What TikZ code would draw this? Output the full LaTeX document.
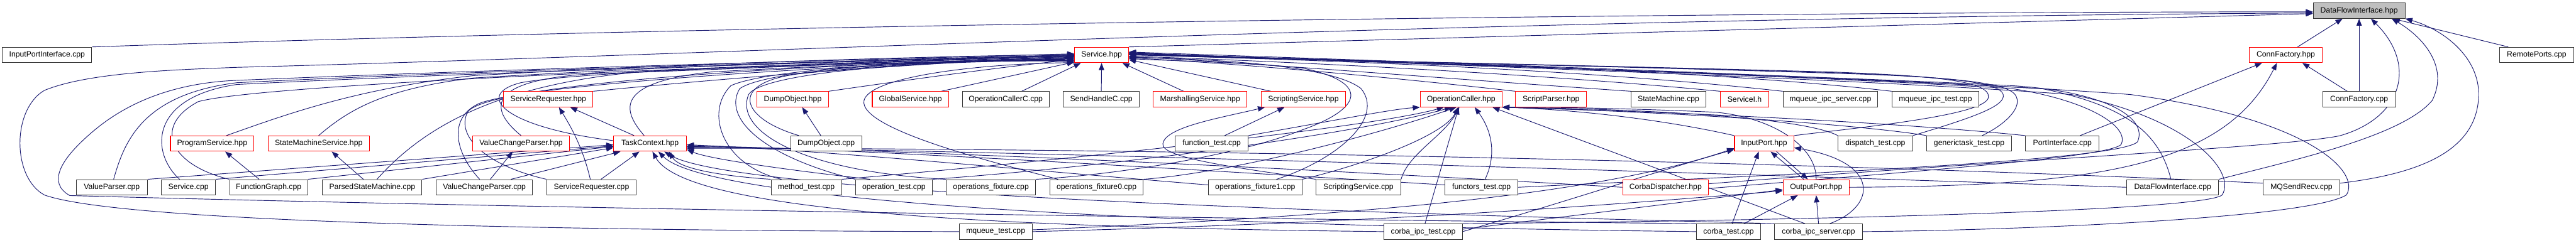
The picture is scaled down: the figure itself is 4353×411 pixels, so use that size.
\documentclass[tikz,border=0pt]{standalone}
\usepackage{fontspec}
\setmainfont{Liberation Sans}
\usetikzlibrary{arrows.meta}
\definecolor{edgecol}{HTML}{191970}
\definecolor{rootfill}{HTML}{BFBFBF}
\pgfdeclarelayer{bg}
\pgfsetlayers{bg,main}
\tikzset{
  nb/.style={draw=black!80, line width=1.1pt, fill=white, inner sep=0pt, minimum height=26pt, font=\fontsize{13}{15}\selectfont},
  nr/.style={nb, draw=red},
  nroot/.style={nb, fill=rootfill},
  dep/.style={draw=edgecol, line width=1pt, -{Triangle[length=12pt,width=9pt]}}
}
\begin{document}
\begin{tikzpicture}[x=1pt,y=-1pt]
\useasboundingbox (0,0) rectangle (4353,411);
% row 0
\node[nroot, minimum width=155pt] (D) at (3986.5,18) {DataFlowInterface.hpp};
% row 1
\node[nb, minimum width=151pt] (iPI) at (79.5,93) {InputPortInterface.cpp};
\node[nr, minimum width=91pt] (svc) at (1861.5,93) {Service.hpp};
\node[nr, minimum width=123pt] (cfh) at (3862.5,93) {ConnFactory.hpp};
\node[nb, minimum width=125pt] (rp) at (4286.5,93) {RemotePorts.cpp};
% row 2
\node[nr, minimum width=151pt] (srh) at (926.5,168) {ServiceRequester.hpp};
\node[nr, minimum width=121pt] (doh) at (1339.5,168) {DumpObject.hpp};
\node[nr, minimum width=129pt] (gsh) at (1538.5,168) {GlobalService.hpp};
\node[nb, minimum width=147pt] (occ) at (1699.5,168) {OperationCallerC.cpp};
\node[nb, minimum width=128pt] (shc) at (1861,168) {SendHandleC.cpp};
\node[nr, minimum width=158pt] (msh) at (2028,168) {MarshallingService.hpp};
\node[nr, minimum width=143pt] (ssh) at (2202.5,168) {ScriptingService.hpp};
\node[nr, minimum width=138pt] (och) at (2469,168) {OperationCaller.hpp};
\node[nr, minimum width=120pt] (sph) at (2621,168) {ScriptParser.hpp};
\node[nb, minimum width=127pt] (smc) at (2819.5,168) {StateMachine.cpp};
\node[nr, minimum width=82pt] (sih) at (2948,168) {ServiceI.h};
\node[nb, minimum width=160pt] (mis) at (3093,168) {mqueue\_ipc\_server.cpp};
\node[nb, minimum width=147pt] (mit) at (3270.5,168) {mqueue\_ipc\_test.cpp};
\node[nb, minimum width=123pt] (cfc) at (3986.5,168) {ConnFactory.cpp};
% row 3
\node[nr, minimum width=141pt] (psh) at (358.5,243) {ProgramService.hpp};
\node[nr, minimum width=171pt] (smsh) at (538.5,243) {StateMachineService.hpp};
\node[nr, minimum width=163pt] (vcph) at (880.5,243) {ValueChangeParser.hpp};
\node[nr, minimum width=123pt] (tch) at (1098.5,243) {TaskContext.hpp};
\node[nb, minimum width=120pt] (doc) at (1396,243) {DumpObject.cpp};
\node[nb, minimum width=123pt] (ftc) at (2047.5,243) {function\_test.cpp};
\node[nr, minimum width=100pt] (iph) at (2981,243) {InputPort.hpp};
\node[nb, minimum width=126pt] (dtc) at (3169,243) {dispatch\_test.cpp};
\node[nb, minimum width=143pt] (gtc) at (3327.5,243) {generictask\_test.cpp};
\node[nb, minimum width=124pt] (pic) at (3485,243) {PortInterface.cpp};
% row 4
\node[nb, minimum width=120pt] (vpc) at (189,317) {ValueParser.cpp};
\node[nb, minimum width=91pt] (sc) at (318.5,317) {Service.cpp};
\node[nb, minimum width=132pt] (fgc) at (454,317) {FunctionGraph.cpp};
\node[nb, minimum width=168pt] (psmc) at (629,317) {ParsedStateMachine.cpp};
\node[nb, minimum width=163pt] (vcpc) at (818.5,317) {ValueChangeParser.cpp};
\node[nb, minimum width=151pt] (src) at (999.5,317) {ServiceRequester.cpp};
\node[nb, minimum width=119pt] (mtc) at (1362.5,317) {method\_test.cpp};
\node[nb, minimum width=129pt] (otc) at (1510.5,317) {operation\_test.cpp};
\node[nb, minimum width=151pt] (ofc) at (1674.5,317) {operations\_fixture.cpp};
\node[nb, minimum width=158pt] (of0) at (1853,317) {operations\_fixture0.cpp};
\node[nb, minimum width=158pt] (of1) at (2121,317) {operations\_fixture1.cpp};
\node[nb, minimum width=143pt] (ssc) at (2295.5,317) {ScriptingService.cpp};
\node[nb, minimum width=123pt] (fnc) at (2503.5,317) {functors\_test.cpp};
\node[nr, minimum width=145pt] (cdh) at (2814.5,317) {CorbaDispatcher.hpp};
\node[nr, minimum width=112pt] (oph) at (3069,317) {OutputPort.hpp};
\node[nb, minimum width=155pt] (dfc) at (3671.5,317) {DataFlowInterface.cpp};
\node[nb, minimum width=130pt] (mqsr) at (3889,317) {MQSendRecv.cpp};
% row 5
\node[nb, minimum width=123pt] (mqt) at (1682.5,392) {mqueue\_test.cpp};
\node[nb, minimum width=132pt] (cit) at (2405,392) {corba\_ipc\_test.cpp};
\node[nb, minimum width=108pt] (ctc) at (2921,392) {corba\_test.cpp};
\node[nb, minimum width=148pt] (cis) at (3073,392) {corba\_ipc\_server.cpp};

\begin{pgfonlayer}{bg}
% ---- to DataFlowInterface.hpp
\draw[dep] (iPI.north east) .. controls (1300,40) and (3000,20) .. ([yshift=-2pt]D.west);
\draw[dep] (mqt.west) .. controls (900,390) and (200,375) .. (75,330) .. controls (20,300) and (20,185) .. (75,153) .. controls (150,122) and (300,118) .. (400,114) .. controls (1300,90) and (2500,30) .. ([yshift=-4pt]D.west);
\draw[dep] (svc.north east) -- ([yshift=-5pt]D.west);
\draw[dep] ([xshift=20pt]cfh.north) -- ([xshift=-28pt]D.south);
\draw[dep] (cfc.north) -- (D.south);
\draw[dep] ([xshift=-48pt]rp.north) -- ([xshift=57pt]D.south);
\draw[dep] ([yshift=6pt]cdh.east) .. controls (3400,270) and (3850,250) .. (3953,230) .. controls (4060,200) and (4085,110) .. ([xshift=20pt]D.south);
\draw[dep] (dfc.north east) .. controls (3880,270) and (4060,230) .. (4110,170) .. controls (4140,110) and (4090,60) .. ([xshift=55pt]D.south);
\draw[dep] ([yshift=7pt]mqsr.east) .. controls (4080,295) and (4180,260) .. (4188,170) .. controls (4195,100) and (4130,50) .. (D.south east);
% ---- to ConnFactory.hpp
\draw[dep] ([xshift=30pt]pic.north) -- ([xshift=-40pt]cfh.south);
\draw[dep] (oph.east) .. controls (3550,315) and (3760,280) .. ([xshift=-15pt]cfh.south);
\draw[dep] ([xshift=-20pt]cfc.north) -- ([xshift=28pt]cfh.south);
% ---- InputPort / OutputPort
\draw[dep] ([xshift=6pt]ctc.north) -- ([xshift=-9pt]iph.south);
\draw[dep] ([xshift=26pt]ctc.north) -- ([xshift=-31pt]oph.south);
\draw[dep] (cis.north) -- (oph.south);
\draw[dep] ([xshift=-21pt]oph.north) -- ([xshift=11pt]iph.south);
\draw[dep] ([xshift=21pt]iph.south) -- ([xshift=-14pt]oph.north);
\draw[dep] ([xshift=19pt]cis.north) .. controls (3170,350) and (3180,275) .. ([yshift=-7pt]iph.east);
\draw[dep] (cit.east) .. controls (2650,340) and (2800,290) .. ([yshift=-10pt]iph.west);
\draw[dep] ([yshift=3pt]mqt.east) .. controls (2300,365) and (2700,330) .. ([yshift=-8pt]iph.west);
\draw[dep] (mqt.east) .. controls (2400,375) and (2800,340) .. ([yshift=-6pt]oph.west);
\draw[dep] ([yshift=4pt]cit.east) .. controls (2700,360) and (2900,335) .. ([yshift=-4pt]oph.west);
% ---- Service.hpp, left side
\draw[dep] (srh.north east) .. controls (1200,135) and (1500,110) .. ([yshift=-2pt]svc.west);
\draw[dep] (doh.north east) .. controls (1500,140) and (1700,112) .. ([yshift=-8pt]svc.west);
\draw[dep] ([xshift=52pt]gsh.north) -- ([yshift=-12pt]svc.west);
\draw[dep] ([xshift=24pt]psh.north) .. controls (480,195) and (600,150) .. (800,128) .. controls (1200,105) and (1600,95) .. ([yshift=1pt]svc.west);
\draw[dep] (smsh.north) .. controls (590,185) and (650,150) .. (800,132) .. controls (1200,108) and (1600,98) .. (svc.west);
\draw[dep] (vcph.north) .. controls (820,180) and (830,135) .. (1000,125) .. controls (1300,115) and (1600,100) .. ([yshift=-1pt]svc.west);
\draw[dep] ([yshift=5pt]tch.west) .. controls (850,215) and (800,160) .. (880,140) .. controls (1000,118) and (1500,105) .. ([yshift=-3pt]svc.west);
\draw[dep] ([xshift=-10pt]tch.north) .. controls (1050,185) and (1040,140) .. (1200,122) .. controls (1400,110) and (1700,100) .. ([yshift=-4pt]svc.west);
\draw[dep] ([xshift=3pt]vpc.north) .. controls (210,240) and (240,160) .. (400,140) .. controls (900,115) and (1500,103) .. (svc.west);
\draw[dep] ([xshift=-15pt]sc.north) .. controls (255,260) and (250,165) .. (400,143) .. controls (900,118) and (1500,103) .. ([yshift=-1pt]svc.west);
\draw[dep] (fgc.north west) .. controls (290,280) and (255,215) .. (335,172) .. controls (450,140) and (1400,105) .. ([yshift=-2pt]svc.west);
\draw[dep] ([xshift=8pt]psmc.north) .. controls (720,210) and (850,140) .. (1100,120) .. controls (1400,108) and (1700,102) .. ([yshift=-5pt]svc.west);
\draw[dep] ([xshift=-8pt]vcpc.north) .. controls (770,260) and (755,200) .. (810,175) .. controls (900,140) and (1500,105) .. ([yshift=-6pt]svc.west);
\draw[dep] (src.north west) .. controls (820,280) and (770,230) .. (790,190) .. controls (820,140) and (1400,105) .. ([yshift=-7pt]svc.west);
\draw[dep] ([xshift=-46pt]doc.north) .. controls (1250,200) and (1230,140) .. (1350,125) .. controls (1500,108) and (1700,100) .. ([yshift=-9pt]svc.west);
\draw[dep] ([xshift=-42pt]mtc.north) .. controls (1220,280) and (1190,190) .. (1235,145) .. controls (1300,115) and (1600,100) .. ([yshift=-10pt]svc.west);
\draw[dep] (otc.north west) .. controls (1290,265) and (1220,200) .. (1250,150) .. controls (1300,115) and (1600,100) .. ([yshift=-10pt]svc.west);
\draw[dep] (ofc.north west) .. controls (1350,290) and (1240,220) .. (1265,160) .. controls (1290,120) and (1600,100) .. ([yshift=-11pt]svc.west);
\draw[dep] ([xshift=-65pt]of0.north) .. controls (1700,280) and (1450,220) .. (1460,170) .. controls (1470,130) and (1650,108) .. ([yshift=-13pt]svc.west);
\draw[dep] (ctc.north west) .. controls (2000,370) and (800,350) .. (118,331) .. controls (80,310) and (100,270) .. (160,220) .. controls (220,170) and (300,140) .. (400,136) .. controls (900,115) and (1500,100) .. ([yshift=2pt]svc.west);
% ---- Service.hpp, bottom
\draw[dep] ([xshift=27pt]occ.north) -- ([xshift=-35pt]svc.south);
\draw[dep] (shc.north) -- (svc.south);
\draw[dep] ([xshift=-28pt]msh.north) -- ([xshift=35pt]svc.south);
% ---- Service.hpp, right side
\draw[dep] ([xshift=-55pt]ssh.north) -- ([yshift=-8pt]svc.east);
\draw[dep] (sph.north west) .. controls (2300,125) and (2050,105) .. ([yshift=-5pt]svc.east);
\draw[dep] (smc.north west) .. controls (2400,130) and (2100,105) .. ([yshift=-3pt]svc.east);
\draw[dep] (sih.north west) .. controls (2600,125) and (2200,105) .. ([yshift=-2pt]svc.east);
\draw[dep] (mis.north west) .. controls (2700,120) and (2300,103) .. (svc.east);
\draw[dep] (mit.north west) .. controls (2900,120) and (2400,103) .. ([yshift=1pt]svc.east);
\draw[dep] ([xshift=36pt]of1.north) .. controls (2260,270) and (2340,200) .. (2300,150) .. controls (2250,110) and (2050,100) .. ([yshift=-4pt]svc.east);
\draw[dep] (ofc.north east) .. controls (1900,295) and (2100,260) .. (2200,220) .. controls (2300,185) and (2320,140) .. (2200,115) .. controls (2100,105) and (1950,102) .. ([yshift=-6pt]svc.east);
\draw[dep] (iph.north east) .. controls (3150,215) and (3355,195) .. (3360,165) .. controls (3365,135) and (3250,128) .. (3100,122) .. controls (2600,108) and (2100,100) .. ([yshift=2pt]svc.east);
\draw[dep] (dtc.north east) .. controls (3330,200) and (3390,180) .. (3385,160) .. controls (3380,140) and (3300,130) .. (3100,123) .. controls (2600,108) and (2100,100) .. ([yshift=1pt]svc.east);
\draw[dep] ([xshift=22pt]gtc.north) .. controls (3390,210) and (3420,180) .. (3405,160) .. controls (3390,140) and (3300,130) .. (3100,124) .. controls (2600,108) and (2100,100) .. ([yshift=2pt]svc.east);
\draw[dep] ([yshift=-2pt]cdh.east) .. controls (3300,285) and (3560,265) .. (3584,245) .. controls (3600,215) and (3530,170) .. (3400,150) .. controls (3000,125) and (2200,100) .. ([yshift=3pt]svc.east);
\draw[dep] (fnc.east) .. controls (2900,300) and (3580,275) .. (3612,240) .. controls (3630,200) and (3560,155) .. (3400,145) .. controls (3000,125) and (2200,102) .. ([yshift=3pt]svc.east);
\draw[dep] ([xshift=-3pt]dfc.north) .. controls (3650,230) and (3600,180) .. (3450,150) .. controls (3000,125) and (2200,102) .. ([yshift=4pt]svc.east);
\draw[dep] (cit.north east) .. controls (2900,375) and (3720,360) .. (3755,330) .. controls (3780,290) and (3700,200) .. (3500,160) .. controls (3100,130) and (2200,102) .. ([yshift=4pt]svc.east);
\draw[dep] (cis.east) .. controls (3400,390) and (3900,370) .. (3965,330) .. controls (3990,290) and (3900,200) .. (3600,160) .. controls (3200,130) and (2300,102) .. ([yshift=5pt]svc.east);
% ---- TaskContext.hpp
\draw[dep] (vpc.north east) -- ([yshift=-2pt]tch.west);
\draw[dep] (sc.north east) -- ([yshift=-4pt]tch.west);
\draw[dep] (fgc.north east) -- ([yshift=-5pt]tch.west);
\draw[dep] (psmc.north east) -- ([yshift=-7pt]tch.west);
\draw[dep] ([xshift=45pt]vcpc.north) -- ([xshift=-50pt]tch.south);
\draw[dep] ([xshift=16pt]src.north) -- ([xshift=-18pt]tch.south);
\draw[dep] (mtc.north west) .. controls (1250,300) and (1150,290) .. ([xshift=32pt]tch.south);
\draw[dep] (cit.west) .. controls (1700,385) and (1160,360) .. ([xshift=4pt]tch.south);
\draw[dep] (ctc.west) .. controls (2000,382) and (1200,345) .. ([xshift=14pt]tch.south);
\draw[dep] (cis.north west) .. controls (2500,365) and (1250,335) .. ([xshift=24pt]tch.south);
\draw[dep] ([xshift=-40pt]otc.north) .. controls (1350,290) and (1200,270) .. ([yshift=-10pt]tch.east);
\draw[dep] ([yshift=4pt]of1.west) .. controls (1700,285) and (1400,255) .. ([yshift=-2pt]tch.east);
\draw[dep] ([yshift=4pt]fnc.west) .. controls (1900,280) and (1400,250) .. ([yshift=-4pt]tch.east);
\draw[dep] (cdh.west) .. controls (2200,285) and (1500,252) .. ([yshift=-5pt]tch.east);
\draw[dep] (dfc.west) .. controls (2800,290) and (1700,255) .. ([yshift=-6pt]tch.east);
\draw[dep] ([yshift=7pt]mqsr.west) .. controls (3000,270) and (1800,250) .. ([yshift=-8pt]tch.east);
% ---- OperationCaller.hpp
\draw[dep] (ftc.north east) .. controls (2250,205) and (2350,185) .. (och.south west);
\draw[dep] (mtc.north east) .. controls (1700,280) and (2300,220) .. ([xshift=-29pt]och.south);
\draw[dep] (otc.north east) .. controls (1900,280) and (2300,225) .. ([xshift=-16pt]och.south);
\draw[dep] (of0.north east) .. controls (2100,290) and (2350,220) .. ([xshift=-8pt]och.south);
\draw[dep] (of1.north east) .. controls (2300,280) and (2440,230) .. ([xshift=-5pt]och.south);
\draw[dep] (ssc.north east) .. controls (2380,260) and (2440,230) .. ([xshift=-3pt]och.south);
\draw[dep] ([xshift=6pt]fnc.north) .. controls (2530,260) and (2520,220) .. ([xshift=23pt]och.south);
\draw[dep] ([xshift=3pt]cit.north) -- ([xshift=-4pt]och.south);
\draw[dep] ([xshift=-23pt]cis.north) -- ([xshift=53pt]och.south);
\draw[dep] (iph.north west) .. controls (2800,200) and (2650,185) .. (och.south east);
\draw[dep] (dtc.north west) .. controls (3050,200) and (2800,185) .. (och.south east);
\draw[dep] (gtc.north west) .. controls (3150,212) and (2850,190) .. (och.south east);
\draw[dep] (pic.north west) .. controls (3200,207) and (2850,190) .. (och.south east);
\draw[dep] (oph.north) .. controls (3070,250) and (3000,200) .. (2900,190) .. controls (2750,183) and (2600,181) .. (och.south east);
% ---- ScriptingService.hpp
\draw[dep] ([xshift=22pt]ftc.north) -- ([xshift=-32pt]ssh.south);
\draw[dep] (ssc.north west) .. controls (2100,285) and (1960,268) .. (1965,243) .. controls (1970,215) and (2060,200) .. ([xshift=-65pt]ssh.south);
% ---- other headers
\draw[dep] ([xshift=-16pt]fgc.north) -- ([xshift=22pt]psh.south);
\draw[dep] ([xshift=-15pt]psmc.north) -- ([xshift=22pt]smsh.south);
\draw[dep] ([xshift=10pt]vcpc.north) -- ([xshift=-14pt]vcph.south);
\draw[dep] ([xshift=-2pt]src.north) .. controls (985,250) and (965,215) .. ([xshift=18pt]srh.south);
\draw[dep] ([xshift=-27pt]tch.north) -- ([xshift=37pt]srh.south);
\draw[dep] ([xshift=-9pt]doc.north) -- ([xshift=16pt]doh.south);
\end{pgfonlayer}
\end{tikzpicture}
\end{document}
